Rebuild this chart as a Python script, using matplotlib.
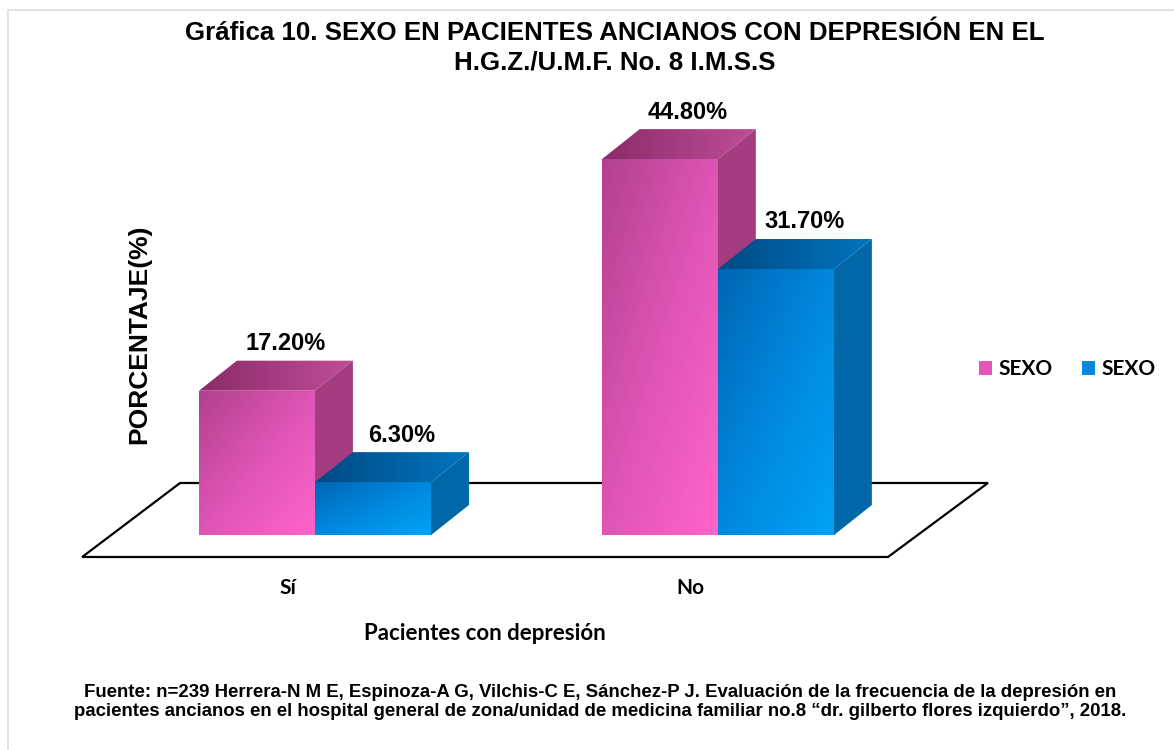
import matplotlib.pyplot as plt
import numpy as np
from matplotlib.colors import LinearSegmentedColormap
from matplotlib.patches import Polygon, Rectangle, Patch

# data
categories = ['Sí', 'No']
series_names = ['SEXO', 'SEXO']
pink_values = [17.2, 44.8]
blue_values = [6.3, 31.7]

title = ('Gráfica 10. SEXO EN PACIENTES ANCIANOS CON DEPRESIÓN EN EL\n'
         'H.G.Z./U.M.F. No. 8 I.M.S.S')
ylabel = 'PORCENTAJE(%)'
xlabel = 'Pacientes con depresión'
footer = ('Fuente: n=239 Herrera-N M E, Espinoza-A G, Vilchis-C E, Sánchez-P J. '
          'Evaluación de la frecuencia de la depresión en\n'
          'pacientes ancianos en el hospital general de zona/unidad de medicina '
          'familiar no.8 “dr. gilberto flores izquierdo”, 2018.')

W, H = 1174, 750
fig = plt.figure(figsize=(W / 100, H / 100), dpi=100)

# light frame, only top/left visible in the original
fig.patches.append(Rectangle((8 / W, -0.1), 1.2, 1 - 10 / H + 0.1,
                             transform=fig.transFigure, fill=False,
                             edgecolor='#dcdcdc', linewidth=1.2))

ax = fig.add_axes([60 / W, 1 - 570 / H, 940 / W, 470 / H])
ax.set_xlim(-0.633, 1.700)
ax.set_ylim(-4.17, 51.85)
ax.axis('off')

bar_w = 0.288
dx, dy = 0.094, 3.58   # depth of the fake 3d boxes

# floor
floor = Polygon([(-0.578, -2.62), (1.422, -2.62), (1.670, 6.2), (-0.335, 6.2)],
                closed=True, facecolor='white', edgecolor='black',
                linewidth=1.6, zorder=1)
ax.add_patch(floor)

styles = [
    dict(cmap=LinearSegmentedColormap.from_list('p', ['#b3408f', '#de55b5', '#ff64c9']),
         top=LinearSegmentedColormap.from_list('pt', ['#8a2c69', '#c04d97']),
         side='#a33d7f'),
    dict(cmap=LinearSegmentedColormap.from_list('b', ['#0066b3', '#0088de', '#00a3f4']),
         top=LinearSegmentedColormap.from_list('bt', ['#004a84', '#0075bf']),
         side='#0067a9'),
]

xx, yy = np.meshgrid(np.linspace(0, 1, 80), np.linspace(0, 1, 80))
front_grad = (xx + (1 - yy)) / 2
top_grad = xx

z = 2
for i in range(len(categories)):
    for k, vals in enumerate([pink_values, blue_values]):
        v = vals[i]
        x0 = i - bar_w + k * bar_w
        st = styles[k]
        rect = ax.bar(x0, v, width=bar_w, align='edge', color='none',
                      linewidth=0, zorder=z)[0]
        im = ax.imshow(front_grad, cmap=st['cmap'], extent=[x0, x0 + bar_w, 0, v],
                       origin='lower', aspect='auto', zorder=z, interpolation='bilinear')
        im.set_clip_path(rect)
        top = Polygon([(x0, v), (x0 + bar_w, v), (x0 + bar_w + dx, v + dy),
                       (x0 + dx, v + dy)], closed=True, facecolor='none',
                      linewidth=0, zorder=z)
        ax.add_patch(top)
        imt = ax.imshow(top_grad, cmap=st['top'],
                        extent=[x0, x0 + bar_w + dx, v, v + dy],
                        origin='lower', aspect='auto', zorder=z, interpolation='bilinear')
        imt.set_clip_path(top)
        side = Polygon([(x0 + bar_w, 0), (x0 + bar_w + dx, dy),
                        (x0 + bar_w + dx, v + dy), (x0 + bar_w, v)], closed=True,
                       facecolor=st['side'], linewidth=0, zorder=z)
        ax.add_patch(side)
        ax.annotate(f'{v:.2f}%', (x0 + bar_w / 2 + 0.07, v + dy),
                    xytext=(0, 4), textcoords='offset points',
                    ha='center', va='bottom', fontsize=17, fontweight='bold',
                    family='Liberation Sans', zorder=10)
        z += 1

# category labels
for i, cat in enumerate(categories):
    ax.text(i - 0.068, -6.3, cat, ha='center', va='center', fontsize=15,
            fontweight='bold', family='Lato', clip_on=False)

fig.text(485 / W, 1 - 633 / H, xlabel, ha='center', va='center', fontsize=16,
         fontweight='bold', family='Lato')
fig.text(139 / W, 1 - 334 / H, ylabel, ha='center', va='center', rotation=90,
         fontsize=19, fontweight='bold', family='Liberation Sans')
fig.text(615 / W, 1 - 48 / H, title, ha='center', va='center', fontsize=18.6,
         fontweight='bold', family='Liberation Sans', linespacing=1.3)
fig.text(600 / W, 1 - 702 / H, footer, ha='center', va='center', fontsize=13.45,
         fontweight='bold', family='Liberation Sans', linespacing=1.12)

handles = [Patch(facecolor='#e655b8'), Patch(facecolor='#0088dc')]
fig.legend(handles, series_names, loc='center left',
           bbox_to_anchor=(960 / W, 1 - 369 / H), ncol=2, frameon=False,
           handlelength=0.65, handleheight=0.65, handletextpad=0.3,
           columnspacing=1.4, prop=dict(family='Lato', weight='bold', size=15))

fig.savefig('out.png', dpi=100)
